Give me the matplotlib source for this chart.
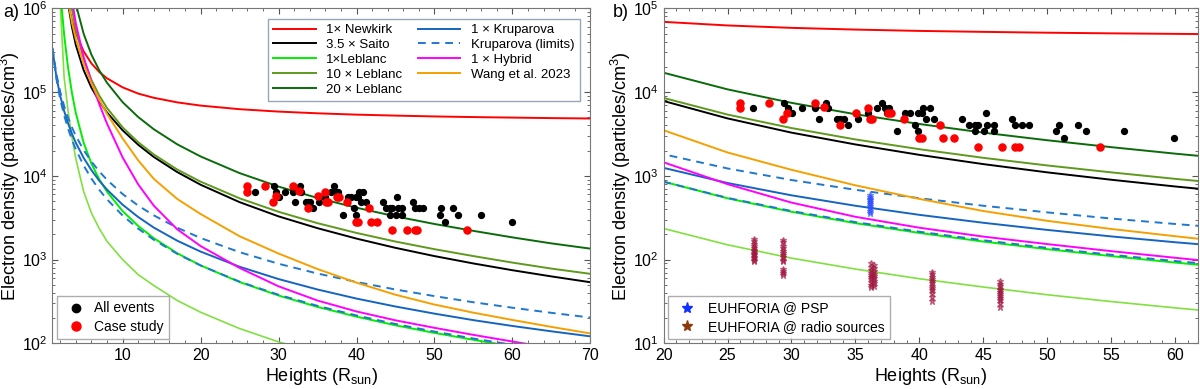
import numpy as np
import matplotlib.pyplot as plt
from matplotlib.lines import Line2D
from matplotlib.ticker import MultipleLocator, LogLocator, NullFormatter

plt.rcParams['font.family'] = ['Liberation Sans', 'DejaVu Sans']
plt.rcParams['mathtext.fontset'] = 'custom'
plt.rcParams['mathtext.rm'] = 'Liberation Sans'
plt.rcParams['mathtext.it'] = 'Liberation Sans:italic'
plt.rcParams['mathtext.bf'] = 'Liberation Sans:bold'

# --- model curves (density in cm^-3 read at these heights, R_sun) ---
heights = [1.0, 1.5, 2, 2.5, 3, 3.5, 4, 5, 6, 7, 8, 10, 12, 14, 17, 20,
           25, 30, 35, 40, 45, 50, 55, 60, 65, 70]
newkirk = [8.8e8, 3.2e7, 6.1e6, 2.25e6, 1.16e6, 7.2e5, 5.05e5, 3.07e5, 2.20e5,
           1.74e5, 1.46e5, 1.14e5, 9.6e4, 8.55e4, 7.54e4, 6.9e4, 6.25e4, 5.85e4,
           5.58e4, 5.38e4, 5.24e4, 5.12e4, 5.03e4, 4.96e4, 4.89e4, 4.84e4]
saito35 = [5.9e8, 5.1e7, 9.5e6, 2.8e6, 1.15e6, 6.0e5, 3.65e5, 1.83e5, 1.13e5,
           7.8e4, 5.7e4, 3.5e4, 2.35e4, 1.68e4, 1.11e4, 7830, 4850, 3280, 2370,
           1780, 1380, 1100, 898, 746, 629, 536]
leblanc = [8.44e7, 7.98e6, 1.59e6, 4.85e5, 1.97e5, 9.78e4, 5.62e4, 2.49e4,
           1.40e4, 9120, 6460, 3790, 2520, 1800, 1190, 852, 539, 372, 272, 208,
           164, 133, 110, 92, 78, 67.5]
leblanc_low = [2e7, 3e6, 1.15e6, 1.5e5, 6e4, 2.9e4, 1.6e4, 6.5e3, 3.6e3, 2.35e3,
               1.65e3, 1.0e3, 660, 490, 325, 235, 150, 104, 77, 59, 47, 38, 31.5,
               26.5, 22.5, 19.5]
kruparova = [3.27e5, 1.54e5, 9.0e4, 5.95e4, 4.24e4, 3.18e4, 2.48e4, 1.64e4,
             1.17e4, 8760, 6840, 4520, 3220, 2410, 1680, 1245, 821, 585, 439,
             342, 275, 226, 189, 161, 139, 121]
krup_upper = [3.37e5, 1.66e5, 1.005e5, 6.81e4, 4.95e4, 3.79e4, 3.0e4, 2.03e4,
              1.48e4, 1.13e4, 8950, 6060, 4410, 3370, 2400, 1810, 1225, 891, 681,
              540, 439, 366, 309, 266, 231, 203]
krup_lower = [3.25e5, 1.45e5, 8.21e4, 5.27e4, 3.67e4, 2.70e4, 2.07e4, 1.33e4,
              9270, 6830, 5240, 3360, 2340, 1725, 1170, 850, 545, 380, 280, 215,
              170, 138, 114, 96, 82, 71]
hybrid = [1e9, 1e8, 2.5e7, 8e6, 3e6, 1.29e6, 6.6e5, 2.63e5, 1.32e5, 7.2e4, 4.2e4,
          1.66e4, 7.9e3, 4.4e3, 2.3e3, 1.45e3, 795, 479, 324, 240, 188, 153, 126,
          105, 88, 75]
wang = [1e9, 3e7, 8e6, 3e6, 1.21e6, 6.8e5, 4.3e5, 2.16e5, 1.27e5, 8.2e4, 5.5e4,
        2.8e4, 1.53e4, 9.2e3, 5.3e3, 3.5e3, 1.9e3, 1.18e3, 770, 530, 380, 290,
        232, 190, 157, 131]

# --- type III burst source densities ---
all_h = [26.97, 29.43, 29.69, 30.02, 30.81, 31.85, 32.14, 32.71, 32.89, 33.54,
         33.81, 34.07, 34.4, 35.19, 36.02, 36.67, 37.06, 37.35, 37.45, 37.61,
         38.26, 38.89, 39.3, 39.67, 39.93, 39.93, 40.24, 40.27, 40.53, 40.84,
         41.16, 43.37, 43.84, 44.36, 44.36, 44.57, 45.07, 45.22, 45.28, 45.8,
         45.85, 47.21, 47.47, 48.04, 48.59, 50.67, 50.88, 51.3, 52.39, 53.02,
         56.0, 59.93]
all_n = [6460, 7470, 6460, 5660, 6460, 6460, 4810, 7470, 6460, 4810,
         4810, 4810, 4100, 4810, 5660, 6460, 7470, 6460, 5660, 6460,
         3430, 5660, 5660, 4100, 3430, 5660, 5660, 6460, 4810, 6460,
         4810, 4810, 4100, 4100, 3430, 4100, 3430, 5660, 4100, 4100,
         3430, 4810, 4100, 4100, 4100, 3430, 4100, 2800, 4100, 3430,
         3430, 2800]
case_h = [26.0, 26.0, 28.25, 29.63, 29.3, 31.85, 32.58, 33.8, 35.06, 35.97,
          36.15, 36.33, 37.51, 37.77, 38.78, 39.98, 40.24, 41.63, 41.81, 42.67,
          44.57, 46.48, 47.49, 47.75, 54.14]
case_n = [7470, 6390, 7470, 5680, 4810, 7470, 6560, 4080, 5680, 6460,
          4810, 4810, 5660, 5660, 4810, 2800, 2800, 4100, 2800, 2800,
          2230, 2230, 2230, 2230, 2230]

# --- EUHFORIA densities ---
psp_h = 36.1
psp_n = [360, 385, 410, 435, 460, 485, 510, 535, 560, 585]
radio_h = [27.1, 29.3, 36.2, 36.45, 40.95, 46.3]
radio_n = [
    [95, 100, 104, 108, 112, 116, 120, 125, 130, 138, 145, 155, 165, 175],
    [65, 70, 74, 78, 95, 100, 106, 112, 120, 128, 136, 145, 160, 172],
    [47, 50, 54, 58, 62, 66, 70, 76, 82, 90],
    [49, 52, 56, 60, 64, 68, 73, 79, 86],
    [32, 36, 40, 43, 46, 49, 52, 55, 58, 62, 67, 71],
    [27, 30, 33, 35, 37, 39, 41, 43, 45, 48, 51, 55],
]

curves = [
    (newkirk, '#ff0000', '-', '1\u00d7 Newkirk'),
    (saito35, '#000000', '-', '3.5 \u00d7 Saito'),
    (leblanc, '#00ee00', '-', '1\u00d7Leblanc'),
    ([10 * v for v in leblanc], '#5f9a1e', '-', '10 \u00d7 Leblanc'),
    ([20 * v for v in leblanc], '#0b6b0b', '-', '20 \u00d7 Leblanc'),
    (kruparova, '#1565c0', '-', '1 \u00d7 Kruparova'),
    (krup_upper, '#1f78d0', '--', 'Kruparova (limits)'),
    (hybrid, '#ff00ff', '-', '1 \u00d7 Hybrid'),
    (wang, '#f5a000', '-', 'Wang et al. 2023'),
]

fig = plt.figure(figsize=(12, 3.89), dpi=100)
ax1 = fig.add_axes([0.0437, 0.1175, 0.4483, 0.861])
ax2 = fig.add_axes([0.553, 0.1175, 0.4455, 0.861])

for ax in (ax1, ax2):
    ax.set_yscale('log')
    ax.plot(heights, leblanc_low, color='#80e040', lw=1.2)
    handles = []
    for vals, col, ls, lab in curves:
        if ls == '--':
            h, = ax.plot(heights, vals, color=col, ls=(0, (4, 3)), lw=1.4, label=lab)
            ax.plot(heights, krup_lower, color=col, ls=(0, (4, 3)), lw=1.4)
        else:
            h, = ax.plot(heights, vals, color=col, ls=ls, lw=1.4, label=lab)
        handles.append(h)
    ax.scatter(all_h, all_n, s=18, color='black', zorder=5)
    ax.scatter(case_h, case_n, s=26, color='#ff0000', zorder=6)
    ax.tick_params(which='both', direction='in', top=True, right=True,
                   colors='#555555', labelcolor='black', labelsize=11.5)
    ax.tick_params(which='major', length=4)
    ax.tick_params(which='minor', length=2)
    ax.yaxis.set_minor_locator(LogLocator(base=10, subs=np.arange(2, 10)))
    ax.yaxis.set_minor_formatter(NullFormatter())
    for s in ax.spines.values():
        s.set_color('#777777')
    ax.set_xlabel('Heights (R$_{\\rm sun}$)', fontsize=13, labelpad=2)
    ax.set_ylabel('Electron density (particles/cm$^3$)', fontsize=13, labelpad=0)

ax1.set_xlim(1, 70)
ax1.set_ylim(1e2, 1e6)
ax1.xaxis.set_major_locator(MultipleLocator(10))
ax1.xaxis.set_minor_locator(MultipleLocator(2))

leg1 = ax1.legend(handles=handles, loc='upper right', ncol=2, fontsize=9.5,
                  frameon=True, fancybox=False, edgecolor='#7f8fa6',
                  handlelength=3.2, columnspacing=1.2, labelspacing=0.2,
                  borderaxespad=0.4, bbox_to_anchor=(0.99, 0.985))
leg1.get_frame().set_linewidth(1.0)
ax1.add_artist(leg1)
ev_handles = [
    Line2D([], [], ls='', marker='o', ms=6, color='black', label='All events'),
    Line2D([], [], ls='', marker='o', ms=6.5, color='#ff0000', label='Case study'),
]
leg2 = ax1.legend(handles=ev_handles, loc='lower left', fontsize=10,
                  frameon=True, fancybox=False, edgecolor='#999999',
                  handletextpad=0.3, labelspacing=0.3, borderaxespad=0.3)

ax2.set_xlim(20, 61.8)
ax2.set_ylim(1e1, 1e5)
ax2.xaxis.set_major_locator(MultipleLocator(5))
ax2.xaxis.set_minor_locator(MultipleLocator(1))

ax2.plot([psp_h] * len(psp_n), psp_n, ls='', marker='*', ms=4.5,
         color='#3050ff', alpha=0.6, zorder=7)
for x, vals in zip(radio_h, radio_n):
    ax2.plot([x] * len(vals), vals, ls='', marker='*', ms=4.5,
             color='#a01840', alpha=0.55, zorder=7)

euh_handles = [
    Line2D([], [], ls='', marker='*', ms=8, color='#1030ff', label='EUHFORIA @ PSP'),
    Line2D([], [], ls='', marker='*', ms=8, color='#8b3a0a',
           label='EUHFORIA @ radio sources'),
]
ax2.legend(handles=euh_handles, loc='lower left', fontsize=10, frameon=True,
           fancybox=False, edgecolor='#999999', handletextpad=0.5,
           labelspacing=0.3, borderaxespad=0.3)

fig.text(0.003, 0.968, 'a)', fontsize=13, va='center')
fig.text(0.511, 0.968, 'b)', fontsize=13, va='center')

fig.savefig('out.png', dpi=100)
